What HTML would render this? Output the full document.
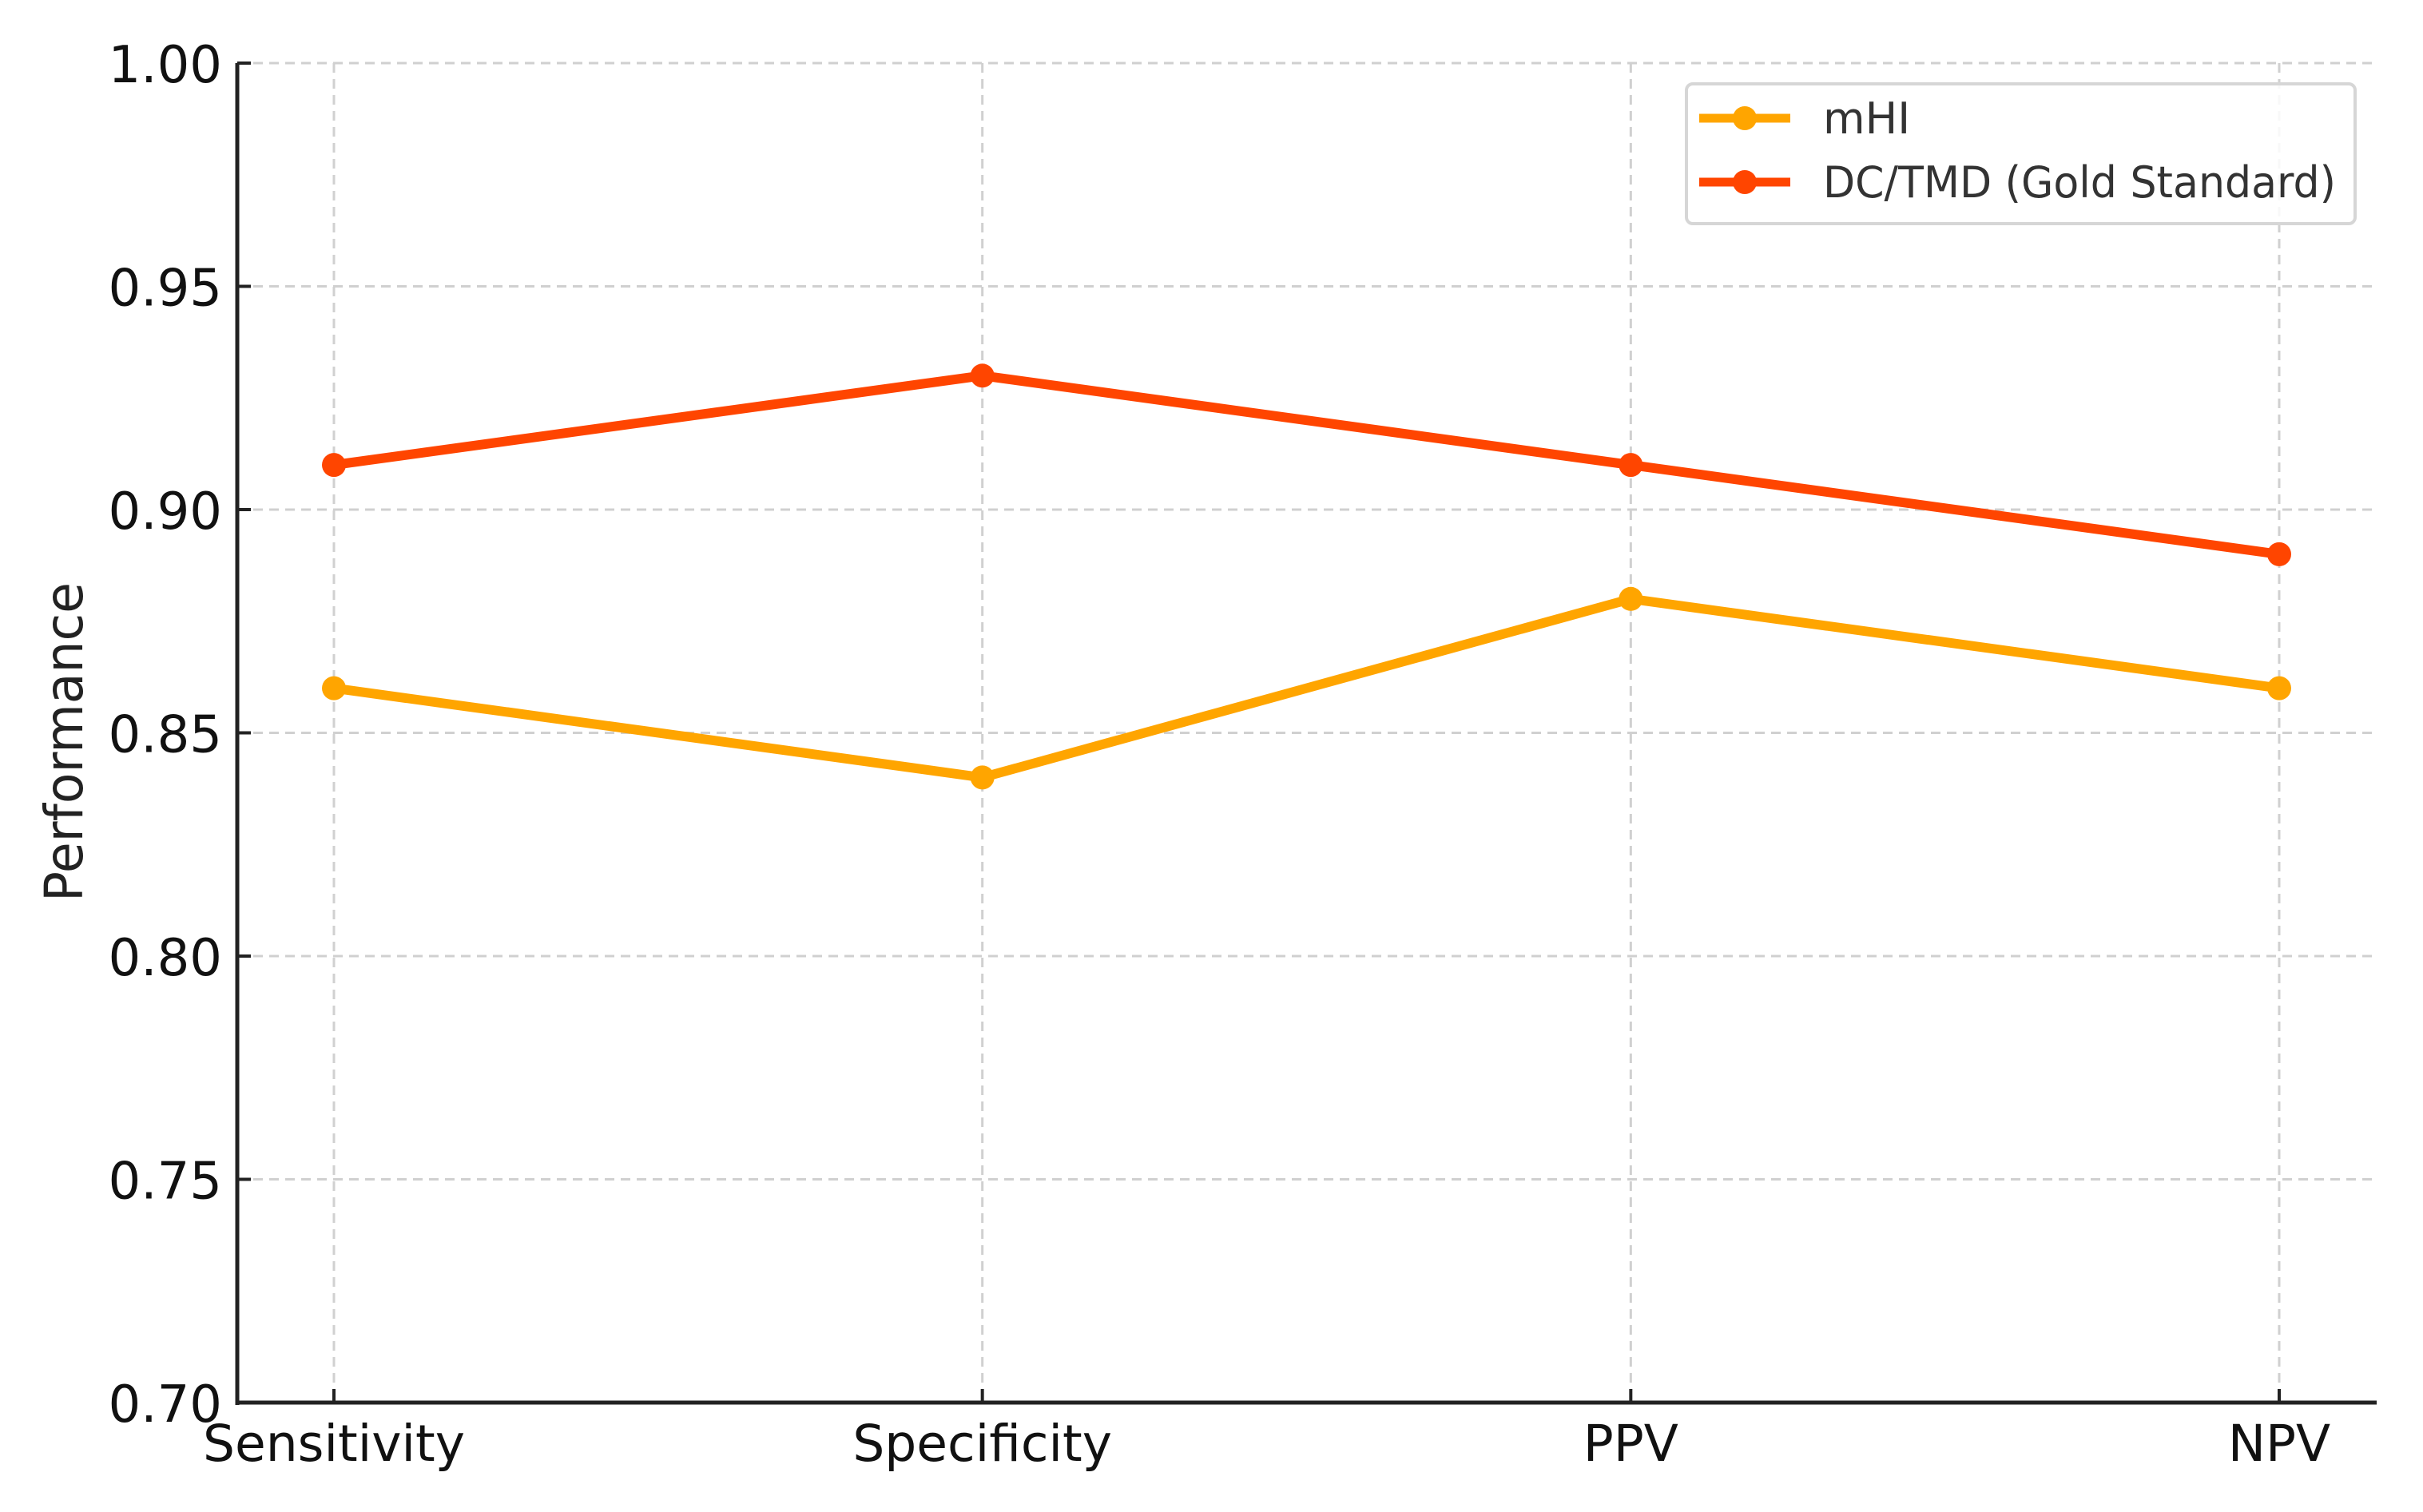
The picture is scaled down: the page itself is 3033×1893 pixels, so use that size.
<!DOCTYPE html>
<html><head><meta charset="utf-8"><style>
html,body{margin:0;padding:0;background:#fff;}
svg{display:block;font-family:"DejaVu Sans","Liberation Sans",sans-serif;}
</style></head><body>
<svg id="chart" width="3033" height="1893" viewBox="0 0 3033 1893">
<g id="grid"></g>
<g id="axes"></g>
<g id="series"></g>
<text x="0" y="0" transform="translate(103,929) rotate(-90) scale(1,1.1)" text-anchor="middle" font-size="60" fill="#222" textLength="400" lengthAdjust="spacingAndGlyphs">Performance</text>
<g>
<rect x="2111" y="105" width="837" height="175" rx="8" fill="#fff" fill-opacity="0.85" stroke="#d6d6d6" stroke-width="4"/>
<g>
<line x1="2127" y1="148" x2="2241" y2="148" stroke="#FFA500" stroke-width="11"/>
<circle cx="2184" cy="148" r="15" fill="#FFA500"/>
<text x="2282" y="167" font-size="54" fill="#333">mHI</text>
</g>
<g>
<line x1="2127" y1="228" x2="2241" y2="228" stroke="#FF4500" stroke-width="11"/>
<circle cx="2184" cy="228" r="15" fill="#FF4500"/>
<text x="2282" y="247" font-size="54" fill="#333" textLength="642" lengthAdjust="spacingAndGlyphs">DC/TMD (Gold Standard)</text>
</g>
</g>
</svg>
<script>
const categories = ["Sensitivity","Specificity","PPV","NPV"];
const mhiValues = [0.86,0.84,0.88,0.86];
const dcValues = [0.91,0.93,0.91,0.89];
const yTicks = [0.70,0.75,0.80,0.85,0.90,0.95,1.00];
const yTickLabels = ["0.70","0.75","0.80","0.85","0.90","0.95","1.00"];

const NS="http://www.w3.org/2000/svg";
const L=297,R=2975,T=79,B=1756;
const X0=418,X1=2853;
const yMin=0.70,yMax=1.00;
function xs(i){return X0+(X1-X0)*i/(categories.length-1);}
function ys(v){return B-(v-yMin)/(yMax-yMin)*(B-T);}
function mk(tag,attrs,parent){const e=document.createElementNS(NS,tag);for(const k in attrs)e.setAttribute(k,attrs[k]);parent.appendChild(e);return e;}
const grid=document.getElementById('grid'),axes=document.getElementById('axes'),series=document.getElementById('series');

yTicks.forEach((t,i)=>{
  const y=ys(t);
  const g=mk('line',{x1:L,x2:R,y1:y,y2:y,stroke:'#d0d0d0','stroke-width':3,'stroke-dasharray':'12 8'},grid);
  
  
  const tk=mk('line',{x1:L,x2:L+17,y1:y,y2:y,stroke:'#222','stroke-width':4},axes);
  
  
  const tx=mk('text',{x:278,y:y+24,'text-anchor':'end','font-size':64,fill:'#111'},axes);
  tx.textContent=yTickLabels[i];
  
  
});
categories.forEach((c,i)=>{
  const x=xs(i);
  const g=mk('line',{x1:x,x2:x,y1:T,y2:B,stroke:'#d0d0d0','stroke-width':3,'stroke-dasharray':'12 8'},grid);
  
  
  const tk=mk('line',{x1:x,x2:x,y1:B,y2:B-17,stroke:'#222','stroke-width':4},axes);
  
  
  const tx=mk('text',{x:x,y:1829,'text-anchor':'middle','font-size':63,fill:'#111'},axes);
  tx.textContent=c;
  
  
});
const sp1=mk('line',{x1:L,x2:L,y1:T,y2:B+3,stroke:'#222','stroke-width':5},axes);


const sp2=mk('line',{x1:L-2,x2:R,y1:B,y2:B,stroke:'#222','stroke-width':5},axes);



function drawSeries(vals,color,name){
  const pts=vals.map((v,i)=>xs(i)+','+ys(v)).join(' ');
  const pl=mk('polyline',{points:pts,fill:'none',stroke:color,'stroke-width':12,'stroke-linejoin':'round','stroke-linecap':'round'},series);
  
  
  vals.forEach((v,i)=>{
    const c=mk('circle',{cx:xs(i),cy:ys(v),r:15,fill:color},series);
    
    
  });
}
drawSeries(mhiValues,'#FFA500','mhi');
drawSeries(dcValues,'#FF4500','dctmd');
</script>
</body></html>
